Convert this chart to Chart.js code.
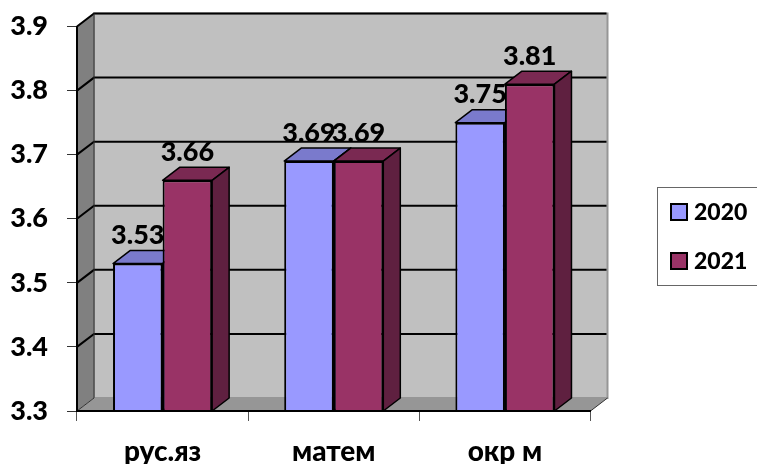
<!DOCTYPE html>
<html>
    <head>
        <meta charset="utf-8">
        <script src="https://cdn.jsdelivr.net/npm/chart.js@4/dist/chart.umd.js"></script>
        <style type="text/css">
            body{
                margin: 0px;
                background: white;
            }
            canvas{
                display: block;
            }
        </style>
    </head>
    <body>
        <canvas id="myChart" width="757" height="464"></canvas>
        <script>
            var categories = ["рус.яз", "матем", "окр м"];
            var years = ["2020", "2021"];
            var values2020 = [3.53, 3.69, 3.75];
            var values2021 = [3.66, 3.69, 3.81];
            var yMin = 3.3, yMax = 3.9, yStep = 0.1;

            var fontName = "Lato, 'Open Sans', sans-serif";
            var depthX = 17, depthY = 13;
            var frontColors = ["#9999FF", "#993366"];
            var topColors = ["#7A7ACC", "#7A2952"];
            var sideColors = ["#5C5C99", "#5F2040"];

            function poly(ctx, pts, fill, stroke, width){
                ctx.beginPath();
                ctx.moveTo(pts[0][0], pts[0][1]);
                for(var i = 1; i < pts.length; i++){
                    ctx.lineTo(pts[i][0], pts[i][1]);
                }
                ctx.closePath();
                if(fill){
                    ctx.fillStyle = fill;
                    ctx.fill();
                }
                if(stroke){
                    ctx.strokeStyle = stroke;
                    ctx.lineWidth = width;
                    ctx.stroke();
                }
            }

            // walls, floor, gridlines and the bars' top and right faces, all behind the front faces
            var wallsPlugin = {
                id: "walls",
                beforeDatasetsDraw: function(chart){
                    var ctx = chart.ctx, a = chart.chartArea, y = chart.scales.y;
                    ctx.save();
                    poly(ctx, [[a.left + depthX, a.top - depthY], [a.right + depthX, a.top - depthY], [a.right + depthX, a.bottom - depthY], [a.left + depthX, a.bottom - depthY]], "#C0C0C0", "#969696", 2);
                    poly(ctx, [[a.left, a.top], [a.left + depthX, a.top - depthY], [a.left + depthX, a.bottom - depthY], [a.left, a.bottom]], "#808080");
                    poly(ctx, [[a.left, a.bottom], [a.left + depthX, a.bottom - depthY], [a.right + depthX, a.bottom - depthY], [a.right, a.bottom]], "#969696");
                    ctx.strokeStyle = "#000";
                    ctx.lineWidth = 2;
                    y.ticks.forEach(function(t){
                        if(t.value <= yMin){
                            return;
                        }
                        var py = y.getPixelForValue(t.value);
                        ctx.beginPath();
                        ctx.moveTo(a.left, py);
                        ctx.lineTo(a.left + depthX, py - depthY);
                        ctx.lineTo(a.right + depthX - 1, py - depthY);
                        ctx.stroke();
                    });
                    ctx.beginPath();
                    ctx.moveTo(a.left, a.bottom);
                    ctx.lineTo(a.left + depthX, a.bottom - depthY);
                    ctx.lineTo(a.left + depthX, a.top - depthY);
                    ctx.moveTo(a.right, a.bottom);
                    ctx.lineTo(a.right + depthX, a.bottom - depthY);
                    ctx.strokeStyle = "#333";
                    ctx.lineWidth = 1;
                    ctx.stroke();

                    ctx.lineJoin = "round";
                    chart.data.datasets.forEach(function(ds, i){
                        chart.getDatasetMeta(i).data.forEach(function(bar){
                            var l = bar.x - bar.width / 2, r = bar.x + bar.width / 2;
                            poly(ctx, [[l, bar.y], [l + depthX, bar.y - depthY], [r + depthX, bar.y - depthY], [r, bar.y]], topColors[i], "#000", 1.5);
                            poly(ctx, [[r, bar.y], [r + depthX, bar.y - depthY], [r + depthX, a.bottom - depthY], [r, a.bottom]], sideColors[i], "#000", 1.5);
                        });
                    });
                    ctx.restore();
                },
                afterDraw: function(chart){
                    var ctx = chart.ctx;
                    ctx.save();
                    // value labels
                    ctx.font = "900 27px " + fontName;
                    ctx.fillStyle = "#000";
                    ctx.textAlign = "center";
                    ctx.textBaseline = "middle";
                    chart.data.datasets.forEach(function(ds, i){
                        chart.getDatasetMeta(i).data.forEach(function(bar, j){
                            ctx.fillText(ds.data[j].toFixed(2), bar.x, bar.y - 28);
                        });
                    });
                    // legend box
                    ctx.strokeStyle = "#666";
                    ctx.lineWidth = 1;
                    ctx.fillStyle = "#fff";
                    ctx.fillRect(657.5, 187.5, 100, 98);
                    ctx.strokeRect(657.5, 187.5, 100, 98);
                    ctx.font = "900 23px " + fontName;
                    ctx.textAlign = "left";
                    chart.data.datasets.forEach(function(ds, i){
                        var ly = 212 + i * 49;
                        ctx.fillStyle = frontColors[i];
                        ctx.fillRect(671, ly - 8, 16, 16);
                        ctx.strokeStyle = "#000";
                        ctx.lineWidth = 2;
                        ctx.strokeRect(671, ly - 8, 16, 16);
                        ctx.fillStyle = "#000";
                        ctx.fillText(ds.label, 694, ly + 1);
                    });
                    ctx.restore();
                }
            };

            var ctx = document.getElementById("myChart").getContext("2d");
            var chart = new Chart(ctx, {
                type: "bar",
                data: {
                    labels: categories,
                    datasets: [
                        {label: years[0], data: values2020, backgroundColor: frontColors[0], borderColor: "#000", borderWidth: 2, borderSkipped: false},
                        {label: years[1], data: values2021, backgroundColor: frontColors[1], borderColor: "#000", borderWidth: 2, borderSkipped: false}
                    ]
                },
                options: {
                    responsive: false,
                    animation: false,
                    layout: {padding: {left: 0, right: 166.5, top: 26.5, bottom: 0}},
                    datasets: {bar: {barPercentage: 1, categoryPercentage: 0.579}},
                    plugins: {
                        legend: {display: false},
                        tooltip: {enabled: false}
                    },
                    scales: {
                        x: {
                            afterFit: function(scale){ scale.height = 53; scale.paddingLeft = 0; scale.paddingRight = 0; },
                            border: {color: "#000", width: 2, z: 1},
                            grid: {drawOnChartArea: false, tickLength: 10, tickColor: "#555"},
                            ticks: {color: "#000", padding: 14, maxRotation: 0, font: {family: fontName, size: 28, weight: "900"}}
                        },
                        y: {
                            min: yMin,
                            max: yMax,
                            afterFit: function(scale){ scale.width = 77; scale.paddingTop = 0; scale.paddingBottom = 0; },
                            border: {color: "#000", width: 2, z: 1},
                            grid: {drawOnChartArea: false, tickLength: 10, tickColor: "#333"},
                            ticks: {
                                stepSize: yStep,
                                color: "#000",
                                padding: 19,
                                font: {family: fontName, size: 27, weight: "900"},
                                callback: function(v){ return v.toFixed(1); }
                            }
                        }
                    }
                },
                plugins: [wallsPlugin]
            });
        </script>
    </body>
</html>
